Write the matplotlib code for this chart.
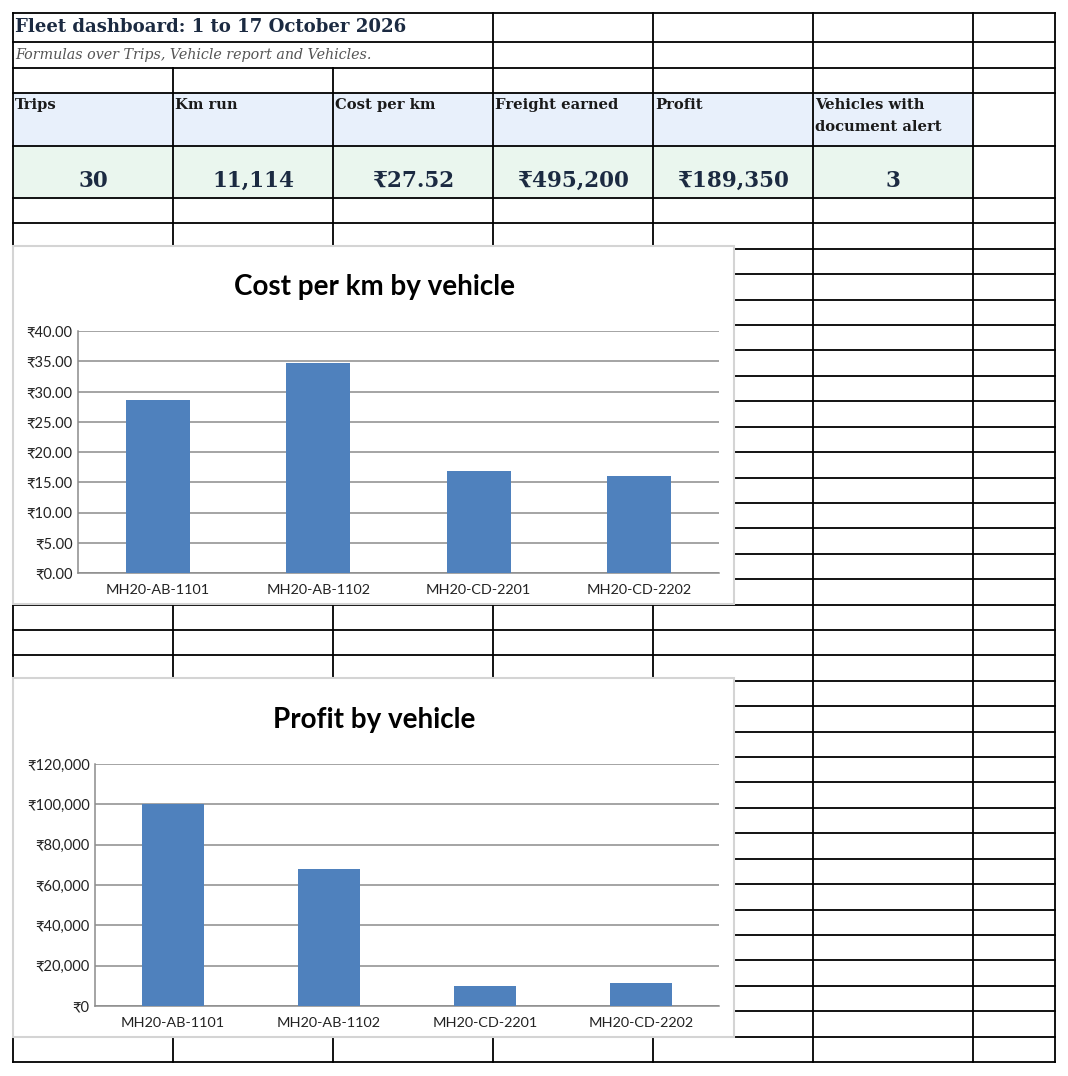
import matplotlib
matplotlib.use("Agg")
import matplotlib.pyplot as plt
from matplotlib.patches import Rectangle
from matplotlib.ticker import FuncFormatter, MultipleLocator

# sheet content
title = "Fleet dashboard: 1 to 17 October 2026"
subtitle = "Formulas over Trips, Vehicle report and Vehicles."
kpi_labels = ["Trips", "Km run", "Cost per km", "Freight earned", "Profit",
              "Vehicles with\ndocument alert"]
kpi_values = ["30", "11,114", "₹27.52", "₹495,200", "₹189,350", "3"]

# chart data
vehicles = ["MH20-AB-1101", "MH20-AB-1102", "MH20-CD-2201", "MH20-CD-2202"]
cost_per_km = [28.6, 34.7, 16.9, 16.0]
profit = [100000, 68000, 10000, 11350]

W, H = 1068, 1076
fig = plt.figure(figsize=(W / 100, H / 100), dpi=100)
bg = fig.add_axes([0, 0, 1, 1])
bg.set_xlim(0, W)
bg.set_ylim(H, 0)
bg.axis("off")

serif = ["DejaVu Serif", "DejaVu Sans"]
sans = ["Lato", "DejaVu Sans"]

cols = [13, 173, 333, 493, 653, 813, 973, 1055]
rows = [13, 42, 68, 93, 146, 198]
step = (1062 - 198) / 34
for i in range(1, 35):
    rows.append(198 + i * step)

# cell fills
for i in range(6):
    bg.add_patch(Rectangle((cols[i], 93), 160, 53, color="#e8f0fb", zorder=1))
    bg.add_patch(Rectangle((cols[i], 146), 160, 52, color="#eaf6ee", zorder=1))

# grid lines
for y in rows:
    bg.plot([13, 1055], [y, y], color="black", lw=1.3, zorder=2)
for x in cols:
    y0 = 68 if x in (173, 333) else 13
    bg.plot([x, x], [y0, rows[-1]], color="black", lw=1.3, zorder=2)

bg.text(15, 27, title, family=serif, fontweight="bold", fontsize=13.1,
        color="#1b2a41", va="center", zorder=3)
bg.text(15, 55, subtitle, family=serif, style="italic", fontsize=10.3,
        color="#555555", va="center", zorder=3)

for i, lab in enumerate(kpi_labels):
    bg.text(cols[i] + 2, 98, lab, family=serif, fontweight="bold", fontsize=10.6,
            color="#1a1a1a", va="top", ha="left", linespacing=1.7, zorder=3)
    bg.text((cols[i] + cols[i + 1]) / 2, 181, kpi_values[i], family=serif,
            fontweight="bold", fontsize=15.5, color="#1b2a41", va="center",
            ha="center", zorder=3)

# chart frames cover the grid
for top, bot in [(246, 604), (678, 1037)]:
    bg.add_patch(Rectangle((13, top), 721, bot - top, facecolor="white",
                           edgecolor="#d4d4d4", lw=1.5, zorder=4))


def bar_chart(box, values, ttl, ttl_y, step_y, ymax, fmt):
    l, t, r, b = box
    ax = fig.add_axes([l / W, 1 - b / H, (r - l) / W, (b - t) / H], zorder=5)
    ax.set_facecolor("none")
    x = range(len(vehicles))
    ax.bar(x, values, width=0.4, color="#4f81bd", zorder=3)
    ax.set_xlim(-0.5, len(vehicles) - 0.5)
    ax.set_ylim(0, ymax)
    ax.yaxis.set_major_locator(MultipleLocator(step_y))
    ax.yaxis.set_major_formatter(FuncFormatter(fmt))
    ax.set_xticks(list(x))
    ax.set_xticklabels(vehicles)
    ax.grid(axis="y", color="#8c8c8c", lw=1.1, zorder=0)
    for s in ["top", "right"]:
        ax.spines[s].set_visible(False)
    for s in ["left", "bottom"]:
        ax.spines[s].set_color("#8c8c8c")
        ax.spines[s].set_linewidth(1.1)
    ax.tick_params(axis="y", length=0, labelsize=10.5, colors="#222222", pad=4)
    ax.tick_params(axis="x", length=0, labelsize=10.4, colors="#222222", pad=8)
    for lb in ax.get_xticklabels() + ax.get_yticklabels():
        lb.set_family(sans)
    fig.text(374 / W, 1 - ttl_y / H, ttl, family=sans, fontweight="bold",
             fontsize=20, ha="center", va="center", color="black", zorder=6)
    return ax


bar_chart((78, 331, 719, 573), cost_per_km, "Cost per km by vehicle", 287,
          5, 40, lambda v, p: "₹{:.2f}".format(v))
bar_chart((95, 764, 719, 1006), profit, "Profit by vehicle", 720,
          20000, 120000, lambda v, p: "₹{:,.0f}".format(v))

fig.savefig("out.png", dpi=100)
